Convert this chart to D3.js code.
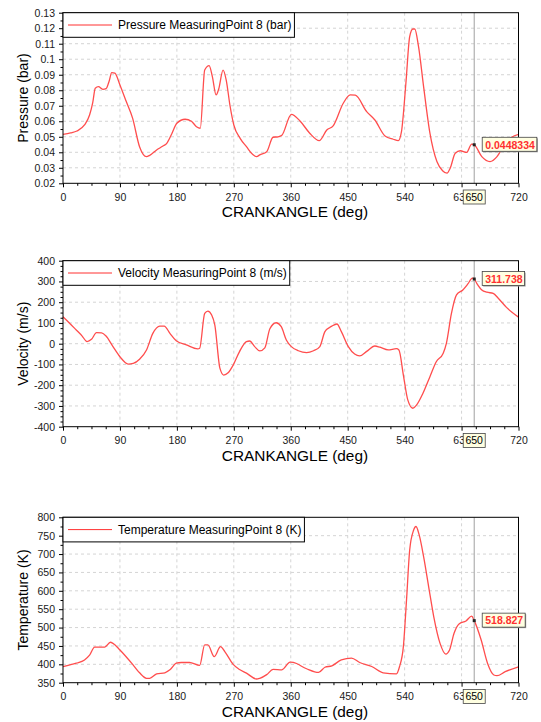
<!DOCTYPE html>
<html>
<head>
<meta charset="utf-8">
<script src="https://cdn.jsdelivr.net/npm/d3@7"></script>
<style>
  body { margin: 0; background: #fff; }
  svg { display: block; font-family: "Liberation Sans", Arial, sans-serif; }
  .tick text { font-size: 10.5px; fill: #1a1a1a; }
  .grid line { stroke: #d4d4d4; stroke-dasharray: 3,3; stroke-width: 1; }
  .curve { fill: none; stroke: #ff4d4d; stroke-width: 1.3; }
</style>
</head>
<body>
<div id="chart"></div>
<script>
// crank angle axis
var xTicks = [0, 90, 180, 270, 360, 450, 540, 630, 720];
var cursorDeg = 650;

// pressure curve (bar)
var pressureDeg = [0, 12, 22, 34, 42, 47, 51, 56, 63, 68, 73, 77, 82, 90, 100, 110, 121, 132, 137, 148, 158, 164, 172, 180, 193, 203, 211, 217, 224, 231, 236, 242, 246, 253, 258, 264, 270, 280, 290, 300, 306, 311, 322, 332, 340, 346, 361, 375, 390, 405, 417, 427, 443, 454, 462, 480, 493, 509, 522, 530, 535, 542, 548, 553, 556, 562, 570, 580, 591, 600, 607, 612, 620, 628, 638, 646, 650, 662, 675, 686, 696, 709, 720];
var pressureBar = [0.0516, 0.0525, 0.0537, 0.0576, 0.064, 0.072, 0.0813, 0.0823, 0.0806, 0.081, 0.086, 0.0914, 0.091, 0.0834, 0.0727, 0.062, 0.0436, 0.0372, 0.038, 0.0415, 0.044, 0.0458, 0.052, 0.0587, 0.0613, 0.060, 0.0565, 0.0555, 0.0931, 0.0959, 0.089, 0.077, 0.0806, 0.093, 0.0866, 0.070, 0.0576, 0.049, 0.0436, 0.0385, 0.0372, 0.0383, 0.0404, 0.0497, 0.050, 0.051, 0.0645, 0.060, 0.0523, 0.0475, 0.0544, 0.057, 0.0716, 0.077, 0.0768, 0.0662, 0.0608, 0.0505, 0.0484, 0.0475, 0.0533, 0.0845, 0.1146, 0.1195, 0.1195, 0.1081, 0.0823, 0.0523, 0.034, 0.0281, 0.0265, 0.0297, 0.0394, 0.041, 0.0399, 0.0452, 0.0448334, 0.0372, 0.034, 0.0372, 0.0437, 0.0497, 0.0516];
var pressureTicks = [0.02, 0.03, 0.04, 0.05, 0.06, 0.07, 0.08, 0.09, 0.1, 0.11, 0.12, 0.13];

// velocity curve (m/s)
var velocityDeg = [0, 10, 21, 30, 38, 45, 53, 61, 68, 79, 90, 103, 111, 121, 132, 142, 153, 160, 169, 179, 195, 213, 216, 224, 229, 235, 240, 248, 254, 261, 269, 279, 290, 295, 303, 311, 319, 327, 337, 345, 353, 361, 372, 385, 396, 406, 414, 425, 433, 440, 451, 461, 469, 480, 493, 501, 514, 527, 531, 538, 545, 553, 559, 569, 580, 590, 601, 606, 614, 622, 632, 640, 647, 650, 654, 662, 670, 680, 688, 701, 720];
var velocityMs = [130, 100, 66, 38, 10, 21, 53, 52, 37, -14, -63, -98, -95, -75, -30, 50, 85, 85, 50, 14, -6, -25, -22, 146, 157, 138, 90, -118, -151, -140, -103, -38, 10, 13, -14, -35, -20, 72, 101, 82, 18, -14, -34, -43, -34, -14, 58, 85, 95, 58, -14, -50, -59, -37, -11, -17, -30, -24, -30, -151, -271, -311, -295, -239, -159, -87, -46, 2, 146, 235, 259, 288, 316, 311.738, 291, 259, 248, 243, 219, 175, 128];
var velocityTicks = [-400, -300, -200, -100, 0, 100, 200, 300, 400];

// temperature curve (K)
var temperatureDeg = [0, 21, 34, 42, 50, 58, 66, 75, 79, 90, 111, 121, 132, 137, 148, 161, 169, 179, 187, 200, 216, 224, 229, 239, 249, 256, 269, 279, 290, 306, 311, 322, 332, 346, 359, 364, 385, 404, 414, 425, 440, 456, 469, 488, 506, 527, 532, 538, 543, 548, 554, 558, 563, 570, 578, 586, 596, 605, 611, 618, 626, 637, 646, 650, 661, 671, 681, 686, 699, 720];
var temperatureK = [394, 403, 412, 425, 447, 447, 447, 460, 457, 439, 398, 377, 362, 362, 374, 377, 385, 403, 405, 405, 397, 453, 453, 421, 448, 434, 400, 386, 376, 360, 362, 372, 386, 385, 406, 405, 388, 378, 392, 396, 412, 417, 405, 394, 377, 374, 394, 448, 575, 711, 764, 775, 752, 693, 611, 530, 457, 428, 439, 484, 510, 518, 531, 518.827, 466, 403, 371, 369, 380, 393];
var temperatureTicks = [350, 400, 450, 500, 550, 600, 650, 700, 750, 800];

var panels = [
  { deg: pressureDeg, val: pressureBar, ticks: pressureTicks, minor: 0.005, top: 12.7, bottom: 183.3,
    legend: "Pressure MeasuringPoint 8 (bar)", yTitle: "Pressure (bar)", cursor: "0.0448334" },
  { deg: velocityDeg, val: velocityMs, ticks: velocityTicks, minor: 25, top: 260.7, bottom: 426.7,
    legend: "Velocity MeasuringPoint 8 (m/s)", yTitle: "Velocity (m/s)", cursor: "311.738" },
  { deg: temperatureDeg, val: temperatureK, ticks: temperatureTicks, minor: 25, top: 517.3, bottom: 682.7,
    legend: "Temperature MeasuringPoint 8 (K)", yTitle: "Temperature (K)", cursor: "518.827" }
];

var width = 541, height = 722;
var left = 63, right = 518.5;

var svg = d3.select("#chart").append("svg")
  .attr("width", width)
  .attr("height", height);

var x = d3.scaleLinear().domain([0, 720]).range([left, right]);
var xMinor = d3.range(0, 721, 22.5).filter(function(d) { return d % 90 !== 0; });

panels.forEach(function(p) {
  var lo = p.ticks[0], hi = p.ticks[p.ticks.length - 1];
  var y = d3.scaleLinear().domain([lo, hi]).range([p.bottom, p.top]);
  var yMinor = d3.range(lo, hi + p.minor / 2, p.minor).filter(function(d) {
    return p.ticks.every(function(t) { return Math.abs(t - d) > p.minor / 10; });
  });
  var g = svg.append("g");

  // dashed grid
  var grid = g.append("g").attr("class", "grid");
  grid.selectAll("line.gx").data(xTicks.slice(1, -1)).enter().append("line")
    .attr("x1", function(d) { return x(d); }).attr("x2", function(d) { return x(d); })
    .attr("y1", p.top).attr("y2", p.bottom);
  grid.selectAll("line.gy").data(p.ticks.slice(1, -1)).enter().append("line")
    .attr("x1", left).attr("x2", right)
    .attr("y1", function(d) { return y(d); }).attr("y2", function(d) { return y(d); });

  // curve
  var pts = p.deg.map(function(d, i) { return [d, p.val[i]]; });
  var line = d3.line()
    .x(function(d) { return x(d[0]); })
    .y(function(d) { return y(d[1]); })
    .curve(d3.curveMonotoneX);
  g.append("path").attr("class", "curve").attr("d", line(pts));

  // cursor line
  g.append("line")
    .attr("x1", x(cursorDeg)).attr("x2", x(cursorDeg))
    .attr("y1", p.top).attr("y2", p.bottom)
    .attr("stroke", "#a0a0a0").attr("stroke-width", 1);

  // axes
  g.append("g").attr("transform", "translate(0," + p.bottom + ")")
    .call(d3.axisBottom(x).tickValues(xTicks).tickSizeInner(4).tickSizeOuter(0).tickPadding(6));
  g.append("g").attr("transform", "translate(0," + p.bottom + ")")
    .call(d3.axisBottom(x).tickValues(xMinor).tickSize(2.5).tickFormat(""));
  g.append("g").attr("transform", "translate(" + left + ",0)")
    .call(d3.axisLeft(y).tickValues(p.ticks).tickSizeInner(4).tickSizeOuter(0).tickPadding(4)
      .tickFormat(function(d) { return String(+d.toFixed(3)); }));
  g.append("g").attr("transform", "translate(" + left + ",0)")
    .call(d3.axisLeft(y).tickValues(yMinor).tickSize(2.5).tickFormat(""));
  g.selectAll(".domain").remove();

  // frame
  g.append("rect")
    .attr("x", left).attr("y", p.top)
    .attr("width", right - left).attr("height", p.bottom - p.top)
    .attr("fill", "none").attr("stroke", "#000").attr("stroke-width", 1);

  // legend
  var lg = g.append("g");
  var lgBox = lg.append("rect")
    .attr("x", left).attr("y", p.top).attr("height", 24.6)
    .attr("fill", "#fff").attr("stroke", "#000").attr("stroke-width", 1);
  var ly = p.top + 12.3;
  lg.append("line").attr("x1", 68).attr("x2", 112).attr("y1", ly).attr("y2", ly)
    .attr("stroke", "#ff3030").attr("stroke-width", 1);
  var lt = lg.append("text").attr("x", 118).attr("y", ly + 4.2)
    .attr("font-size", 12).attr("fill", "#000").text(p.legend);
  lgBox.attr("width", 118 + lt.node().getComputedTextLength() + 3 - left);

  // axis titles
  g.append("text")
    .attr("transform", "translate(23," + (p.top + p.bottom) / 2 + ") rotate(-90)")
    .attr("text-anchor", "middle").attr("dy", "0.35em")
    .attr("font-size", 14).attr("fill", "#000").text(p.yTitle);
  g.append("text")
    .attr("x", 295).attr("y", p.bottom + 34)
    .attr("text-anchor", "middle")
    .attr("font-size", 15.4).attr("fill", "#000").text("CRANKANGLE (deg)");

  // cursor marker and value label
  var cx = x(cursorDeg), cy = y(p.val[p.deg.indexOf(cursorDeg)]);
  g.append("rect").attr("x", cx - 1.5).attr("y", cy - 1.5).attr("width", 3).attr("height", 3).attr("fill", "#222");
  var vt = g.append("text").attr("x", cx + 11).attr("y", cy + 3.8)
    .attr("font-size", 10.5).attr("font-weight", "bold").attr("fill", "#ff3030").text(p.cursor);
  var vw = vt.node().getComputedTextLength();
  g.insert("rect", function() { return vt.node(); })
    .attr("x", cx + 9).attr("y", cy - 6.5).attr("width", vw + 5).attr("height", 14)
    .attr("fill", "#999");
  g.insert("rect", function() { return vt.node(); })
    .attr("x", cx + 8).attr("y", cy - 7.5).attr("width", vw + 5).attr("height", 14)
    .attr("fill", "#ffffe1").attr("stroke", "#444").attr("stroke-width", 0.8);

  // cursor x label
  var bx = g.append("g");
  bx.append("rect").attr("x", cx - 11).attr("y", p.bottom + 6.7).attr("width", 22).attr("height", 14)
    .attr("fill", "#ffffe1").attr("stroke", "#444").attr("stroke-width", 0.8);
  bx.append("text").attr("x", cx).attr("y", p.bottom + 17.5)
    .attr("text-anchor", "middle").attr("font-size", 10.5).attr("fill", "#000").text(String(cursorDeg));
});
</script>
</body>
</html>
